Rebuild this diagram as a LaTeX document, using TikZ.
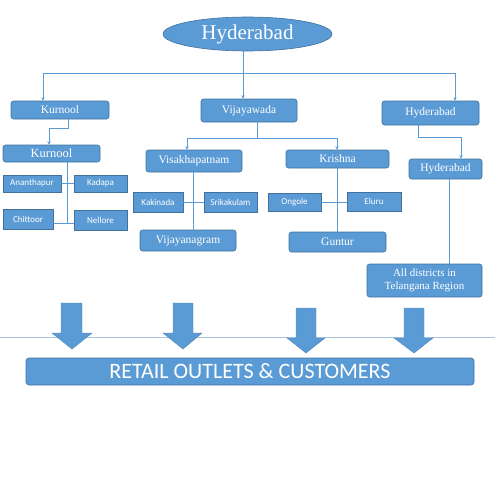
\documentclass[tikz,border=0pt]{standalone}
\usepackage{fontspec}
\setmainfont{Liberation Serif}
\newfontfamily\carl{Carlito}
\usetikzlibrary{arrows.meta,shapes.geometric}
\definecolor{obl}{HTML}{5B9BD5}
\definecolor{obd}{HTML}{41719C}
\definecolor{lnc}{HTML}{5B9BD5}
\definecolor{hl}{HTML}{A9C4E0}
\tikzset{
  box/.style={draw=obd,fill=obl,rounded corners=2.5pt,text=white,inner sep=0pt,line width=0.6pt,font=\fontsize{11.5}{13}\selectfont},
  sbox/.style={draw=obd,fill=obl,text=white,inner sep=0pt,line width=0.6pt,font=\carl\fontsize{9}{10}\selectfont},
  conn/.style={draw=lnc,line width=0.7pt},
  arr/.style={conn,-{Stealth[length=3.5pt,width=3.5pt]}},
  barrow/.style={fill=obl,draw=obl!85!black,line width=0.4pt}
}
\begin{document}
\begin{tikzpicture}[x=1pt,y=-1pt]
\useasboundingbox (0,0) rectangle (495,495);
% header
\node[ellipse,draw=obd,fill=obl,text=white,line width=0.6pt,minimum width=169pt,minimum height=34pt,inner sep=0pt,font=\fontsize{21}{23}\selectfont] (ell) at (247.5,34) {Hyderabad};
% level 1
\node[box,minimum width=98pt,minimum height=18pt] (kur) at (60,110) {Kurnool};
\node[box,minimum width=96pt,minimum height=23pt] (vij) at (249,110.5) {Vijayawada};
\node[box,minimum width=97pt,minimum height=24pt] (hyd1) at (430.5,113) {Hyderabad};
% left branch
\node[box,minimum width=97pt,minimum height=17pt,font=\fontsize{12.5}{14}\selectfont] (kur2) at (51.5,153.5) {Kurnool};
\node[sbox,minimum width=58pt,minimum height=17pt] (anan) at (32,183.5) {Ananthapur};
\node[sbox,minimum width=53pt,minimum height=17pt] (kad) at (100.5,183.5) {Kadapa};
\node[sbox,minimum width=50pt,minimum height=20pt] (chit) at (28,219) {Chittoor};
\node[sbox,minimum width=53pt,minimum height=20pt] (nel) at (100.5,220) {Nellore};
% middle branch
\node[box,minimum width=96pt,minimum height=22pt] (visak) at (194,161) {Visakhapatnam};
\node[sbox,minimum width=50pt,minimum height=20pt] (kak) at (158,202) {Kakinada};
\node[sbox,minimum width=53pt,minimum height=20pt] (sri) at (230.5,202) {Srikakulam};
\node[box,minimum width=96pt,minimum height=21pt] (vijn) at (188,240.5) {Vijayanagram};
\node[box,minimum width=103pt,minimum height=18pt] (kri) at (337.5,159) {Krishna};
\node[sbox,minimum width=53pt,minimum height=18pt] (ong) at (294.5,202) {Ongole};
\node[sbox,minimum width=54pt,minimum height=19pt] (elu) at (374,201.5) {Eluru};
\node[box,minimum width=97pt,minimum height=20pt] (gun) at (337.5,242) {Guntur};
% right branch
\node[box,minimum width=73pt,minimum height=20pt] (hyd2) at (445.5,169) {Hyderabad};
\node[box,minimum width=115pt,minimum height=33pt,align=center,font=\fontsize{11}{12.5}\selectfont] (all) at (424.5,280.5) {All districts in\\Telangana Region};
% retail
\node[box,rounded corners=3pt,minimum width=448pt,minimum height=27pt,font=\carl\fontsize{22}{24}\selectfont] (ret) at (250,371.5) {RETAIL OUTLETS \& CUSTOMERS};

% connectors
\coordinate (j0) at (243,73);
\draw[arr] (ell.south -| j0) -- (vij.north -| j0);
\draw[arr] (43,73) -- (kur.north -| 43,0);
\draw[arr] (43,73) -- (455,73) -- (hyd1.north -| 455,0);
\draw[arr] (kur.south -| 68,0) |- (49,128) -- (kur2.north -| 49,0);
\coordinate (k2b) at (67,223);
\draw[conn] (kur2.south -| k2b) -- (k2b);
\draw[conn] (anan.east) -- (kad.west);
\draw[conn] (chit.east |- k2b) -- (nel.west |- k2b);
\coordinate (j1) at (257,138);
\draw[conn] (vij.south -| j1) -- (j1);
\draw[arr] (j1) -| (visak.north -| 187,0);
\draw[arr] (j1) -| (kri.north -| 337,0);
\draw[conn] (visak.south -| 193,0) -- (vijn.north -| 193,0);
\draw[conn] (kak.east) -- (sri.west);
\draw[conn] (kri.south -| 337,0) -- (gun.north -| 337,0);
\draw[conn] (ong.east |- 0,202) -- (elu.west |- 0,202);
\draw[arr] (hyd1.south -| 418,0) |- (461,137) -- (hyd2.north -| 461,0);
\draw[conn] (hyd2.south -| 449,0) -- (all.north -| 449,0);

% bottom line and block arrows
\draw[hl,line width=0.8pt] (0,337) -- (495,337);
\draw[barrow] (61,303) -- (82,303) -- (82,333) -- (92,333) -- (72,349) -- (52,333) -- (61,333) -- cycle;
\draw[barrow] (173,303) -- (193,303) -- (193,333) -- (202,333) -- (183,349) -- (163,333) -- (173,333) -- cycle;
\draw[barrow] (296,308) -- (316,308) -- (316,338) -- (325,338) -- (306,353) -- (287,338) -- (296,338) -- cycle;
\draw[barrow] (404,308) -- (424,308) -- (424,338) -- (433,338) -- (414,353) -- (394,338) -- (404,338) -- cycle;
\end{tikzpicture}
\end{document}
